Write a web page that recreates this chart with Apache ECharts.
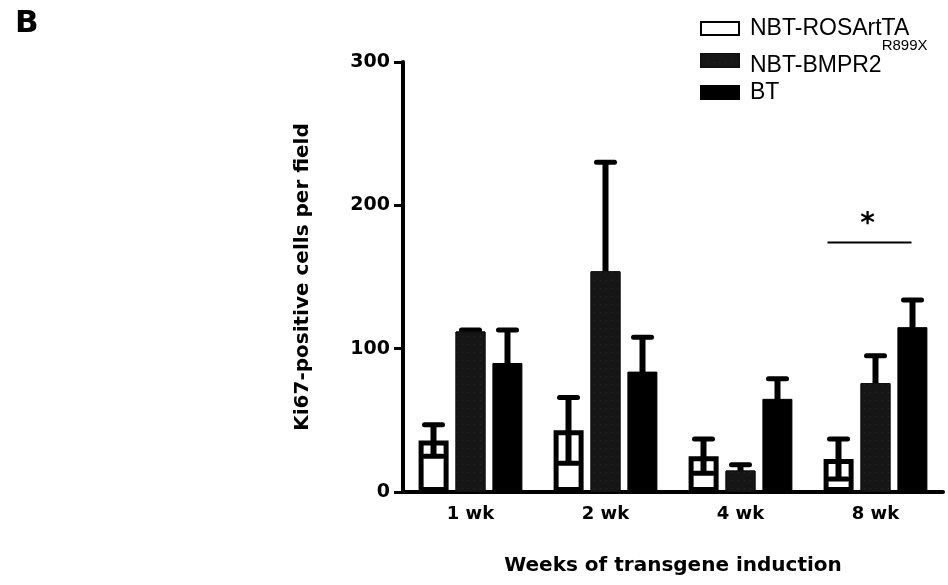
<!DOCTYPE html>
<html>
<head>
<meta charset="utf-8">
<script src="https://cdn.jsdelivr.net/npm/echarts@6/dist/echarts.min.js"></script>
<style>html,body{margin:0;padding:0;background:#fff}#c{width:948px;height:585px}</style>
</head>
<body>
<div id="c"></div>
<script>
// ---- data ----
const categories = ['1 wk', '2 wk', '4 wk', '8 wk'];
const seriesNames = ['NBT-ROSArtTA', 'NBT-BMPR2', 'BT'];
const rosMean = [36, 43, 25, 23];
const rosSD   = [11, 23, 12, 14];
const bmprMean = [112, 154, 15, 76];
const bmprSD   = [1, 76, 4, 19];
const btMean = [90, 84, 65, 115];
const btSD   = [23, 24, 14, 19];
const yTicks = [0, 100, 200, 300];
const sigCategory = '8 wk';
const sigValue = 174;

// ---- styles ----
const FONT = 'DejaVu Sans';
const BAR_W = 30;
const BAR_STEP = 37;   // px between bar centres in a group
const means = [rosMean, bmprMean, btMean];
const sds = [rosSD, bmprSD, btSD];

const chart = echarts.init(document.getElementById('c'));

function errRender(seriesOffset) {
  return function (params, api) {
    const c = api.value(0), m = api.value(1), s = api.value(2);
    const pm = api.coord([c, m]);
    const pt = api.coord([c, m + s]);
    const pb = api.coord([c, Math.max(m - s, 0)]);
    const x = pm[0] + seriesOffset * BAR_STEP;
    const capW = 9;
    const st = { stroke: '#000', lineWidth: 6, lineCap: 'butt' };
    const cap = { stroke: '#000', lineWidth: 5, lineCap: 'round' };
    return {
      type: 'group',
      children: [
        { type: 'line', shape: { x1: x, y1: pb[1], x2: x, y2: pt[1] }, style: st },
        { type: 'line', shape: { x1: x - capW, y1: pt[1], x2: x + capW, y2: pt[1] }, style: cap },
        { type: 'line', shape: { x1: x - capW, y1: pb[1], x2: x + capW, y2: pb[1] }, style: cap }
      ]
    };
  };
}

const barStyles = [
  { color: '#ffffff', borderColor: '#000', borderWidth: 5 },
  { color: '#161616', borderColor: '#111', borderWidth: 1,
    decal: { symbol: 'rect', symbolSize: 0.6, color: 'rgba(150,150,150,0.5)', dashArrayX: [1, 5], dashArrayY: [1, 7], rotation: 0 } },
  { color: '#000000', borderColor: '#000', borderWidth: 1 }
];

const series = [];
seriesNames.forEach((n, i) => {
  series.push({
    name: n, type: 'bar', barWidth: BAR_W, barGap: '23%',
    data: means[i], itemStyle: barStyles[i], z: 3
  });
});
seriesNames.forEach((n, i) => {
  series.push({
    name: n + ' err', type: 'custom', z: i === 0 ? 5 : 1,
    renderItem: errRender(i - 1),
    data: categories.map((c, k) => [k, means[i][k], sds[i][k]])
  });
});
series.push({
  name: 'sig', type: 'custom', z: 6,
  renderItem: function (params, api) {
    const p = api.coord([api.value(0), api.value(1)]);
    return {
      type: 'group', children: [
        { type: 'line', shape: { x1: p[0] - 48, y1: p[1], x2: p[0] + 36, y2: p[1] }, style: { stroke: '#000', lineWidth: 2 } },
        { type: 'text', x: p[0] - 8, y: p[1] - 4, style: { text: '*', font: 'bold 28px ' + FONT, fill: '#000', align: 'center', verticalAlign: 'bottom' } }
      ]
    };
  },
  data: [[categories.indexOf(sigCategory), sigValue]]
});

chart.setOption({
  animation: false,
  backgroundColor: '#fff',
  grid: { left: 403, top: 62, width: 540, height: 430 },
  legend: {
    data: seriesNames,
    orient: 'vertical', left: 695, top: 12,
    itemWidth: 38, itemHeight: 13, itemGap: -2,
    icon: 'rect',
    selectedMode: false,
    formatter: function (name) {
      if (name === 'NBT-BMPR2') return '{g|}{b|NBT-BMPR2}{s|R899X}';
      return '{g|}{a|' + name + '}';
    },
    textStyle: {
      rich: {
        g: { width: 6 },
        a: { fontFamily: 'Liberation Sans', fontSize: 23, lineHeight: 26, color: '#000' },
        b: { fontFamily: 'Liberation Sans', fontSize: 23, lineHeight: 22, padding: [10, 0, 0, 0], color: '#000' },
        s: { fontFamily: 'Liberation Sans', fontSize: 15, lineHeight: 14, padding: [0, 0, 30, 0], color: '#000' }
      }
    }
  },
  xAxis: {
    type: 'category', data: categories,
    name: 'Weeks of transgene induction', nameLocation: 'middle', nameGap: 64,
    nameTextStyle: { fontFamily: FONT, fontWeight: 'bold', fontSize: 20, color: '#000' },
    axisLine: { lineStyle: { color: '#000', width: 4 } },
    axisTick: { alignWithLabel: true, length: 9, lineStyle: { color: '#000', width: 3 } },
    axisLabel: { margin: 13, fontFamily: FONT, fontWeight: 'bold', fontSize: 18, color: '#000' }
  },
  yAxis: {
    type: 'value', min: yTicks[0], max: yTicks[yTicks.length - 1], interval: 100,
    name: 'Ki67-positive cells per field', nameLocation: 'middle', nameGap: 90, nameRotate: 90,
    nameTextStyle: { fontFamily: FONT, fontWeight: 'bold', fontSize: 20, color: '#000' },
    axisLine: { show: true, lineStyle: { color: '#000', width: 4 } },
    axisTick: { show: true, length: 9, lineStyle: { color: '#000', width: 3 } },
    splitLine: { show: false },
    axisLabel: { margin: 13, fontFamily: FONT, fontWeight: 'bold', fontSize: 19, color: '#000' }
  },
  graphic: [
    { type: 'text', left: 15, top: 8, style: { text: 'B', font: 'bold 31px ' + FONT, fill: '#000' } }
  ],
  series: series
});
</script>
</body>
</html>
